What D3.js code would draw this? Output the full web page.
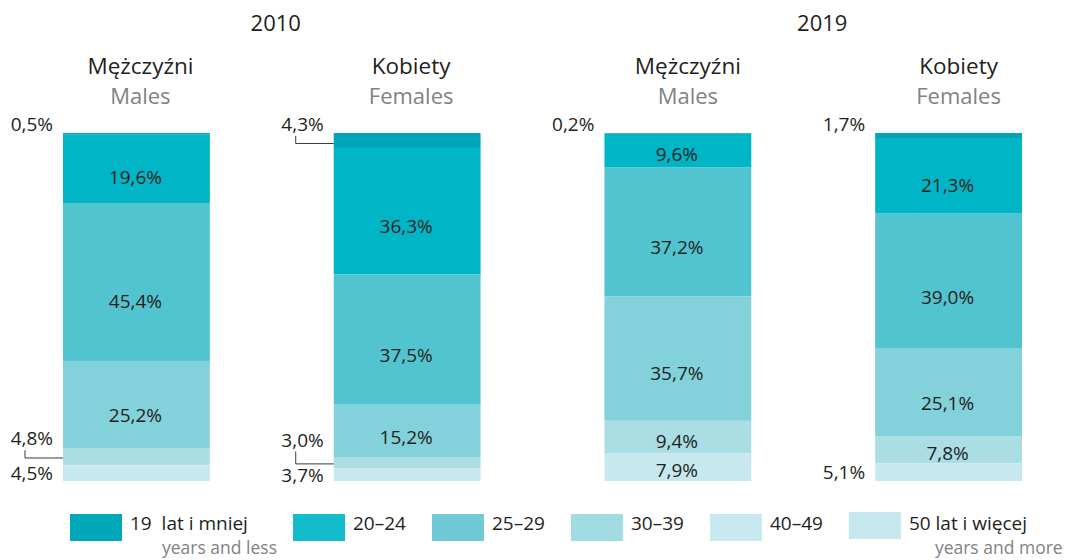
<!DOCTYPE html>
<html>
<head>
<meta charset="utf-8">
<script src="https://cdn.jsdelivr.net/npm/d3@7"></script>
<style>
  body { margin: 0; background: #fff; }
  svg { font-family: 'Open Sans', sans-serif; }
</style>
</head>
<body>
<div class="content"></div>
<script>
var width = 1076
var height = 560

// data
var years = ['2010', '2019']
var sexes = ['Mężczyźni', 'Kobiety']
var sexesEn = ['Males', 'Females']
var ageGroups = ['19  lat i mniej', '20–24', '25–29', '30–39', '40–49', '50 lat i więcej']
var ageGroupsEn = ['years and less', '', '', '', '', 'years and more']
var males2010 = [0.5, 19.6, 45.4, 25.2, 4.8, 4.5]
var females2010 = [4.3, 36.3, 37.5, 15.2, 3.0, 3.7]
var males2019 = [0.2, 9.6, 37.2, 35.7, 9.4, 7.9]
var females2019 = [1.7, 21.3, 39.0, 25.1, 7.8, 5.1]

var barColors = ['#00a6b8', '#00b6c6', '#52c4cf', '#83d1db', '#abdde4', '#c8e8ef']
var swatchColors = ['#00a8ba', '#12bccb', '#6fcad5', '#a3dbe2', '#c8e9ef', '#c7e8ee']

var bars = [
    { year: years[0], sex: 0, values: males2010 },
    { year: years[0], sex: 1, values: females2010 },
    { year: years[1], sex: 0, values: males2019 },
    { year: years[1], sex: 1, values: females2019 }
]
bars.forEach(function(b) {
    b.key = b.year + '-' + b.sex
    var acc = 0
    b.segments = b.values.map(function(v, j) {
        var s = { value: v, age: j, y0: acc, y1: acc + v, bar: b }
        acc += v
        return s
    })
})

var x = d3.scaleBand()
    .domain(bars.map(function(b) { return b.key }))
    .range([63, 1022])
    .paddingInner(0.4576)
    .paddingOuter(0)

var y = d3.scaleLinear()
    .domain([0, 100])
    .range([133, 481])

var color = d3.scaleOrdinal().domain(d3.range(6)).range(barColors)
var fmt = function(v) { return v.toFixed(1).replace('.', ',') + '%' }

var svg = d3.select('.content').append('svg')
    .attr('width', width)
    .attr('height', height)

var ink = '#231f20'
var grey = '#808285'

// year titles
years.forEach(function(yr, i) {
    var keys = bars.filter(function(b) { return b.year === yr }).map(function(b) { return b.key })
    var cx = (x(keys[0]) + x(keys[1]) + x.bandwidth()) / 2 + 4 + i * 5
    svg.append('text')
        .attr('x', cx).attr('y', 31)
        .attr('text-anchor', 'middle')
        .style('font-size', '22px').style('fill', ink)
        .text(yr)
})

var g = svg.selectAll('g.bar')
    .data(bars)
    .enter().append('g')
    .attr('class', 'bar')

// sex headers
g.append('text')
    .attr('x', function(d, i) { return x(d.key) + x.bandwidth() / 2 + 4 + (i > 1 ? 6 : 0) })
    .attr('y', 74)
    .attr('text-anchor', 'middle')
    .style('font-size', '22.5px').style('fill', ink)
    .text(function(d) { return sexes[d.sex] })

g.append('text')
    .attr('x', function(d, i) { return x(d.key) + x.bandwidth() / 2 + 4 + (i > 1 ? 6 : 0) })
    .attr('y', 104)
    .attr('text-anchor', 'middle')
    .style('font-size', '22px').style('fill', grey)
    .text(function(d) { return sexesEn[d.sex] })

// segments
g.selectAll('rect')
    .data(function(d) { return d.segments })
    .enter().append('rect')
    .attr('x', function(d) { return x(d.bar.key) })
    .attr('width', x.bandwidth())
    .attr('y', function(d) { return y(d.y0) })
    .attr('height', function(d) { return y(d.y1) - y(d.y0) })
    .style('fill', function(d) { return color(d.age) })

// labels inside the bars
g.selectAll('text.inside')
    .data(function(d) { return d.segments.filter(function(s) { return s.value >= 6 }) })
    .enter().append('text')
    .attr('class', 'inside')
    .attr('x', function(d) { return x(d.bar.key) + x.bandwidth() / 2 - 1 })
    .attr('y', function(d) { return y(d.y0) + 0.62 * (y(d.y1) - y(d.y0)) })
    .attr('dy', '0.36em')
    .attr('text-anchor', 'middle')
    .style('font-size', '19px').style('fill', ink)
    .text(function(d) { return fmt(d.value) })

// labels outside (small segments) with leader lines
bars.forEach(function(b) {
    var bx = x(b.key)
    var segs = b.segments
    var last = segs.length - 1
    var outs = []
    if (segs[0].value < 6) {
        var s0 = segs[0]
        var h0 = y(s0.y1) - y(s0.y0)
        outs.push({ seg: s0, base: y(0) - 2, leader: h0 > 10 ? (y(s0.y0) + y(s0.y1)) / 2 + 3 : null })
    }
    if (segs[last].value < 6) {
        var sl = segs[last]
        var baseL = (y(sl.y0) + y(sl.y1)) / 2 + 7
        outs.push({ seg: sl, base: baseL, leader: null })
        if (segs[last - 1].value < 6) {
            var sp = segs[last - 1]
            outs.push({ seg: sp, base: baseL - 35, leader: (y(sp.y0) + y(sp.y1)) / 2 + 1 })
        }
    }
    outs.forEach(function(o) {
        svg.append('text')
            .attr('x', bx - 10).attr('y', o.base)
            .attr('text-anchor', 'end')
            .style('font-size', '19px').style('fill', ink)
            .text(fmt(o.seg.value))
        if (o.leader !== null) {
            var lx = bx - 38
            svg.append('path')
                .attr('d', 'M' + lx + ',' + (o.base + 5) + 'V' + o.leader + 'H' + bx)
                .style('fill', 'none')
                .style('stroke', '#3a3a3a')
                .style('stroke-width', 1)
        }
    })
})

// legend
var legend = svg.append('g').attr('class', 'legend')
var lx = 70
ageGroups.forEach(function(a, i) {
    var item = legend.append('g')
    item.append('rect')
        .attr('x', lx).attr('y', i === 5 ? 512 : 514)
        .attr('width', 52).attr('height', 27)
        .style('fill', swatchColors[i])
    var t = item.append('text')
        .attr('x', lx + 60).attr('y', 529.5)
        .style('font-size', '19px').style('fill', ink)
        .style('white-space', 'pre')
        .text(a)
    var end = lx + 60 + t.node().getComputedTextLength()
    if (ageGroupsEn[i]) {
        var off = i === 5 ? 26 : 32
        var st = item.append('text')
            .attr('x', lx + 60 + off).attr('y', 554)
            .style('font-size', '17.5px').style('fill', grey)
            .text(ageGroupsEn[i])
        end = Math.max(end, lx + 60 + off + st.node().getComputedTextLength())
    }
    lx = end + (i === 0 ? 16 : 26)
})
</script>
</body>
</html>
